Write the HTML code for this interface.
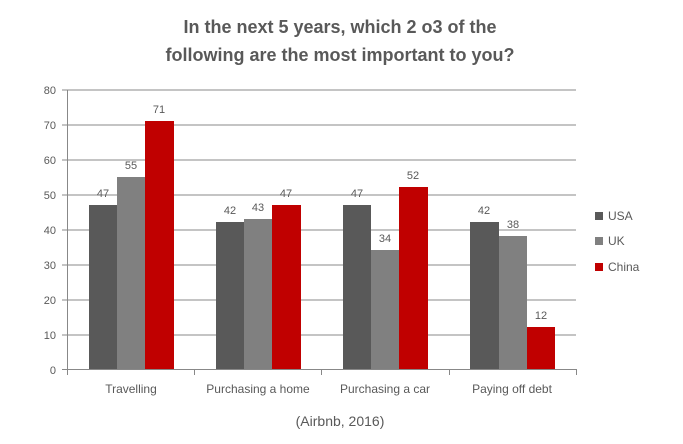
<!DOCTYPE html>
<html><head><style>body{margin:0;background:#fff}svg{display:block;font-family:"Liberation Sans",sans-serif}</style></head><body>
<svg width="683" height="444" xmlns="http://www.w3.org/2000/svg">
<rect width="683" height="444" fill="#fff"/>
<text x="340" y="33" text-anchor="middle" font-size="18" font-weight="bold" fill="#595959">In the next 5 years, which 2 o3 of the</text>
<text x="340" y="61" text-anchor="middle" font-size="18" font-weight="bold" fill="#595959">following are the most important to you?</text>
<g stroke="#888" stroke-width="1">
<line x1="67" y1="90" x2="576" y2="90"/><line x1="67" y1="125" x2="576" y2="125"/>
<line x1="67" y1="160" x2="576" y2="160"/><line x1="67" y1="195" x2="576" y2="195"/>
<line x1="67" y1="230" x2="576" y2="230"/><line x1="67" y1="265" x2="576" y2="265"/>
<line x1="67" y1="300" x2="576" y2="300"/><line x1="67" y1="335" x2="576" y2="335"/>
<line x1="62" y1="369.5" x2="576" y2="369.5"/><line x1="67.5" y1="90" x2="67.5" y2="375"/>
<line x1="62" y1="90" x2="67" y2="90"/><line x1="62" y1="125" x2="67" y2="125"/><line x1="62" y1="160" x2="67" y2="160"/><line x1="62" y1="195" x2="67" y2="195"/><line x1="62" y1="230" x2="67" y2="230"/><line x1="62" y1="265" x2="67" y2="265"/><line x1="62" y1="300" x2="67" y2="300"/><line x1="62" y1="335" x2="67" y2="335"/>
<line x1="194.5" y1="369" x2="194.5" y2="375"/><line x1="321.5" y1="369" x2="321.5" y2="375"/><line x1="449.5" y1="369" x2="449.5" y2="375"/><line x1="576.5" y1="369" x2="576.5" y2="375"/>
</g>
<g font-size="11" fill="#595959" text-anchor="end">
<text x="56" y="94">80</text><text x="56" y="129">70</text><text x="56" y="164">60</text><text x="56" y="199">50</text><text x="56" y="234">40</text><text x="56" y="269">30</text><text x="56" y="304">20</text><text x="56" y="339">10</text><text x="56" y="374">0</text>
</g>
<g>
<rect x="89" y="205" width="28" height="164" fill="#595959"/><rect x="117" y="177" width="28" height="192" fill="#808080"/><rect x="145" y="121" width="29" height="248" fill="#c00000"/>
<rect x="216" y="222" width="28" height="147" fill="#595959"/><rect x="244" y="219" width="28" height="150" fill="#808080"/><rect x="272" y="205" width="29" height="164" fill="#c00000"/>
<rect x="343" y="205" width="28" height="164" fill="#595959"/><rect x="371" y="250" width="28" height="119" fill="#808080"/><rect x="399" y="187" width="29" height="182" fill="#c00000"/>
<rect x="470" y="222" width="29" height="147" fill="#595959"/><rect x="499" y="236" width="28" height="133" fill="#808080"/><rect x="527" y="327" width="28" height="42" fill="#c00000"/>
</g>
<g font-size="11" fill="#595959" text-anchor="middle">
<text x="103" y="197">47</text><text x="131" y="169">55</text><text x="159" y="113">71</text>
<text x="230" y="214">42</text><text x="258" y="211">43</text><text x="286" y="197">47</text>
<text x="357" y="197">47</text><text x="385" y="242">34</text><text x="413" y="179">52</text>
<text x="484" y="214">42</text><text x="513" y="228">38</text><text x="541" y="319">12</text>
</g>
<g font-size="12" fill="#595959" text-anchor="middle">
<text x="131" y="393">Travelling</text><text x="258" y="393">Purchasing a home</text><text x="385" y="393">Purchasing a car</text><text x="512" y="393">Paying off debt</text>
</g>
<text x="340" y="426" text-anchor="middle" font-size="14" fill="#595959">(Airbnb, 2016)</text>
<rect x="595" y="212" width="8" height="8" fill="#595959"/><text x="608" y="220" font-size="12" fill="#595959">USA</text>
<rect x="595" y="237" width="8" height="8" fill="#808080"/><text x="608" y="245" font-size="12" fill="#595959">UK</text>
<rect x="595" y="263" width="8" height="8" fill="#c00000"/><text x="608" y="271" font-size="12" fill="#595959">China</text>
</svg>
</body></html>
